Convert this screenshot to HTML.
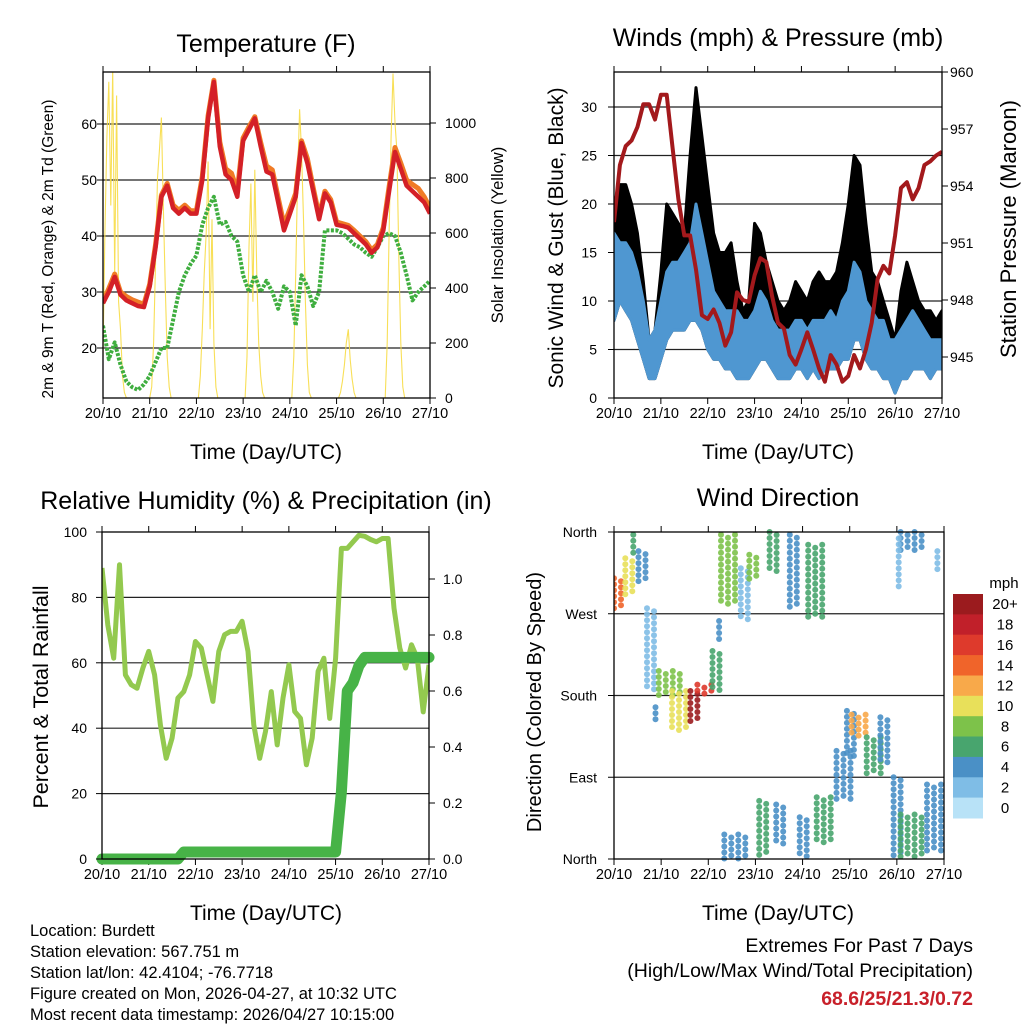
<!DOCTYPE html>
<html><head><meta charset="utf-8"><style>
html,body{margin:0;padding:0;background:#fff;}
svg{display:block;font-family:"Liberation Sans",Arial,sans-serif;}
</style></head><body>
<svg id="fig" width="1024" height="1024" viewBox="0 0 1024 1024" xmlns="http://www.w3.org/2000/svg">
<defs>
<clipPath id="c1"><rect x="103" y="72" width="327" height="326"/></clipPath>
<clipPath id="c2"><rect x="614" y="72" width="328" height="326"/></clipPath>
<clipPath id="c3"><rect x="102" y="532" width="327" height="327"/></clipPath>
<clipPath id="c4"><rect x="614" y="528" width="330" height="335"/></clipPath>
</defs>
<g id="layer"></g>
<text x="266" y="52" font-size="25" text-anchor="middle">Temperature (F)</text>
<text x="778" y="46" font-size="25" text-anchor="middle">Winds (mph) &amp; Pressure (mb)</text>
<text x="266" y="509" font-size="25" text-anchor="middle">Relative Humidity (%) &amp; Precipitation (in)</text>
<text x="778" y="506" font-size="25" text-anchor="middle">Wind Direction</text>
<text x="266" y="459" font-size="21" text-anchor="middle">Time (Day/UTC)</text>
<text x="778" y="459" font-size="21" text-anchor="middle">Time (Day/UTC)</text>
<text x="266" y="920" font-size="21" text-anchor="middle">Time (Day/UTC)</text>
<text x="778" y="920" font-size="21" text-anchor="middle">Time (Day/UTC)</text>
<text transform="translate(53,249) rotate(-90)" font-size="15.5" text-anchor="middle">2m &amp; 9m T (Red, Orange) &amp; 2m Td (Green)</text>
<text transform="translate(503,235) rotate(-90)" font-size="16.5" text-anchor="middle">Solar Insolation (Yellow)</text>
<text transform="translate(563,238) rotate(-90)" font-size="21" text-anchor="middle">Sonic Wind &amp; Gust (Blue, Black)</text>
<text transform="translate(1016,229) rotate(-90)" font-size="22" text-anchor="middle">Station Pressure (Maroon)</text>
<text transform="translate(48,697) rotate(-90)" font-size="21.5" text-anchor="middle">Percent &amp; Total Rainfall</text>
<text transform="translate(541,702) rotate(-90)" font-size="20" text-anchor="middle">Direction (Colored By Speed)</text>
<g font-size="16.5">
<text x="30" y="936">Location: Burdett</text>
<text x="30" y="957">Station elevation: 567.751 m</text>
<text x="30" y="978">Station lat/lon: 42.4104; -76.7718</text>
<text x="30" y="999">Figure created on Mon, 2026-04-27, at 10:32 UTC</text>
<text x="30" y="1020">Most recent data timestamp: 2026/04/27 10:15:00</text>
</g>
<g font-size="19.5" text-anchor="end">
<text x="973" y="952">Extremes For Past 7 Days</text>
<text x="973" y="977">(High/Low/Max Wind/Total Precipitation)</text>
<text x="973" y="1005" font-weight="bold" fill="#c8202a">68.6/25/21.3/0.72</text>
</g>
</svg>
<script>
const dayLabels=['20/10','21/10','22/10','23/10','24/10','25/10','26/10','27/10'];
const temp2m=[28,30,32.7,29.5,28.5,28,27.5,27.3, 31,38,47,49,45,44,45,44, 44,50,61,67.5,56,51,50,47, 57,59,61,56,51.5,51,46,41, 44,47,56.6,53,48,43,47.6,46, 42,41.8,41.5,40.5,39.5,38.5,37,38, 41,48,55,52,49,48,47,46, 44];
const temp9m=[28.3,30.6,33.2,30,29.2,28.6,28.2,27.8, 31.4,38.5,47.3,49.4,45.5,44.6,45.5,44.5, 44.5,50.6,61.5,67.8,56.8,52,51.2,48, 57.5,59.5,61.3,56.7,52.5,51.8,46.8,42, 44.8,47.6,57,53.8,48.6,43.6,48,46.5, 42.5,42.2,41.9,41,40,39,37.5,38.5, 41.5,48.8,55.8,53,50,49.2,48.5,47, 45];
const dewpt=[24,18,21,17,14,13,12.5,13.5, 15,17.5,20,20,25,30,33,35, 36.5,42,45,47,42,42.5,40,39, 33,30,33,30,32,30,27,31, 30,24,33,31,27.5,30,41,41, 41,40.5,39.5,38.5,38,37,36.3,38, 40,40.5,40,37,33,28.5,30,31, 32];
const solar=[150,600,950,1150,700,1200,450,1100,350,250,80,20,0,0,0,0,0,0,0,0,0,0,0,0,
0,40,200,500,800,900,1020,700,400,150,40,0,0,0,0,0,0,0,0,0,0,0,0,0,
0,0,80,250,450,600,860,250,650,200,40,0,0,0,0,0,0,0,0,0,0,0,0,0,
0,0,150,550,780,350,830,450,200,80,20,0,0,0,0,0,0,0,0,0,0,0,0,0,
0,0,150,450,800,1050,900,650,350,120,20,0,0,0,0,0,0,0,0,0,0,0,0,0,
0,0,20,60,120,200,250,140,70,20,0,0,0,0,0,0,0,0,0,0,0,0,0,0,
0,0,200,600,950,1180,1000,900,500,200,40,0,0,0,0,0,0,0,0,0,0,0,0,0,
0];
const windLo=[8,10,9,8,6,4,2,2, 4,6,7,7,7,8,8,7, 5,4,4,3,3,2,2,2, 3,4,4,3,2,2,2,3, 3,2,3,2,3,3,3,4, 4,6,6,4,3,3,2,2, 0.5,2,2,3,3,3,2,3, 3];
const windHi=[17,16,16,15,13,10,6,7, 10,13,14,14,15,16,20,17, 14,11,10,9,9,9,8,8, 9,11,10,8,7,7,7,8, 8,7,8,8,8,9,8,10, 11,14,13,10,9,8,8,6, 6,7,8,9,8,7,6,6, 6];
const gustHi=[20,22,22,20,17,12,6,7, 13,20,19,18,17,25,32,27, 22,17,15,15,16,12,9,10, 18,17,14,12,10,9,10,12, 11,10,12,13,12,12,13,16, 20,25,24,18,13,12,10,8, 6,11,14,12,10,9,9,8, 9];
const pressure=[952.1,955.1,956.1,956.4,957.1,958.3,958.3,957.5, 958.8,958.8,956,953.3,951.4,951.4,949.6,947.2, 947,947.5,946.8,945.6,946.3,948.4,948,947.9, 949.3,950.2,950,948.2,946.8,946.5,945.1,944.6, 945.4,946.3,945.4,944.4,943.7,945.1,944.6,943.7, 944,945.1,944.4,945.4,946.8,949.1,949.8,949.4, 951.4,953.9,954.2,953.3,953.9,955.1,955.3,955.6, 955.8];
const rh=[89,71.6,61.4,90,56.3,53.3,52.2,58.4, 63.5,56.3,41,30.8,37,49.2,51.2,56.3, 66.5,64.5,56.3,48.2,63.5,68.6,69.6,69.6, 72.7,63.5,41,30.8,39,51.2,34.9,49.2, 59.4,45.1,43,28.8,37,57.4,61.4,43, 61.4,95,95,97,99,98.7,97.7,97, 98,98,76.7,64.5,58.4,65.5,61.4,45, 59.4];
const precip=[0,0,0,0,0,0,0,0, 0,0,0,0,0,0,0.025,0.025, 0.025,0.025,0.025,0.025,0.025,0.025,0.025,0.025, 0.025,0.025,0.025,0.025,0.025,0.025,0.025,0.025, 0.025,0.025,0.025,0.025,0.025,0.025,0.025,0.025, 0.025,0.24,0.60,0.63,0.69,0.72,0.72,0.72, 0.72,0.72,0.72,0.72,0.72,0.72,0.72,0.72, 0.72];
const dirSegT0=[0.00,0.24,0.41,0.52,0.70,0.88,0.95,1.23,1.62,1.77,2.09,2.23,2.27,2.69,2.87,3.30,3.73,4.12,6.08,6.04,6.86,2.34,3.08,3.44,3.94,4.30,4.72,4.94,5.04,5.36,5.65,5.93,6.08,6.64];
const dirSegT1=[0.24,0.52,0.48,0.73,0.95,0.95,1.45,1.66,1.80,2.09,2.37,2.34,2.66,2.87,3.08,3.51,3.94,4.44,6.64,6.11,6.93,2.80,3.37,3.73,4.23,4.72,5.08,5.22,5.43,5.72,5.93,6.22,6.64,7.00];
const dirSegLo=[276,291,335,306,185,148,178,141,152,179,185,240,280,262,306,317,276,266,339,298,317,0,2,16,2,16,64,112,134,93,104,2,2,9];
const dirSegHi=[309,331,357,339,276,167,207,185,185,192,229,262,357,320,335,360,357,346,360,353,339,27,64,60,46,68,119,163,159,134,156,90,49,82];
const dirSegSpeed=[15,11,7,5,2,4,9,11,20,16,7,4,8,2,9,6,4,6,4,2,2,4,6,5,4,6,4,5,13,7,4,4,6,4];
const speedLabels=['0','2','4','6','8','10','12','14','16','18','20+'];
const speedColors=['#b8e2f7','#7fbde6','#4a90c6','#48a56e','#7dc24a','#e8e05a','#f8a94a','#f0642a','#de3a2c','#c1202a','#9b1b1e'];

const NS='http://www.w3.org/2000/svg';
const layer=document.getElementById('layer');
function mk(tag,attrs,parent){const e=document.createElementNS(NS,tag);for(const k in attrs)e.setAttribute(k,attrs[k]);(parent||layer).appendChild(e);return e;}
function xOf(P,t){return P.x0+t/7*(P.x1-P.x0);}
const P1={x0:103,x1:430,y0:72,y1:398}, P2={x0:614,x1:942,y0:72,y1:398}, P3={x0:102,x1:429,y0:532,y1:859}, P4={x0:614,x1:944,y0:532,y1:859};
const tempY=v=>348-(v-20)*5.6, solarY=v=>398-v*0.275;
const windY=v=>398-v*9.7, presY=v=>72+(960-v)*19;
const rhY=v=>859-v*3.27, prY=v=>859-v*280;
const dirY=d=>859-d*(327/360);

function frame(P,name){
  const g=mk('g',{});
  
  
  for(let i=0;i<=7;i++){
    const x=xOf(P,i);
    mk('line',{x1:x,y1:P.y1,x2:x,y2:P.y1+6,stroke:'#000','stroke-width':1},g);
    mk('line',{x1:x,y1:P.y0,x2:x,y2:P.y0-6,stroke:'#000','stroke-width':1},g);
    const tl=mk('text',{x:x,y:P.y1+20,'font-size':14.5,'text-anchor':'middle'},g);
    tl.textContent=dayLabels[i];
    
    
  }
  return g;
}
function leftAxis(P,vals,fy,labels,lx){
  const g=mk('g',{});
  
  
  vals.forEach((v,i)=>{const y=fy(v);
    mk('line',{x1:P.x0-6,y1:y,x2:P.x0,y2:y,stroke:'#000'},g);
    const t=mk('text',{x:lx,y:y+5,'font-size':14,'text-anchor':'end'},g);t.textContent=labels[i];
    
    
  });
}
function rightAxis(P,vals,fy,labels,lx){
  const g=mk('g',{});
  
  
  vals.forEach((v,i)=>{const y=fy(v);
    mk('line',{x1:P.x1,y1:y,x2:P.x1+6,y2:y,stroke:'#000'},g);
    const t=mk('text',{x:lx,y:y+5,'font-size':14,'text-anchor':'start'},g);t.textContent=labels[i];
    
    
  });
}
function grid(P,vals,fy){vals.forEach(v=>{const y=fy(v);mk('line',{x1:P.x0,y1:y,x2:P.x1,y2:y,stroke:'#222','stroke-width':1.2});});}
function box(P,name){const r=mk('rect',{x:P.x0,y:P.y0,width:P.x1-P.x0,height:P.y1-P.y0,fill:'none',stroke:'#000','stroke-width':1.3});}
function pts(P,arr,fy,n){return arr.map((v,i)=>xOf(P,i*7/(n-1)).toFixed(1)+','+fy(v).toFixed(1)).join(' ');}

// ---------- Panel 1 ----------
frame(P1,'temperature');
grid(P1,[20,30,40,50,60],tempY);
const g1=mk('g',{'clip-path':'url(#c1)'});
const sol=mk('polyline',{points:pts(P1,solar,solarY,solar.length),fill:'none',stroke:'#f7dc45','stroke-width':1.1,opacity:0.9},g1);


const dp=mk('polyline',{points:pts(P1,dewpt,tempY,dewpt.length),fill:'none',stroke:'#3fae3f','stroke-width':4,'stroke-dasharray':'3 1.5','stroke-linejoin':'round'},g1);


const t9=mk('polyline',{points:pts(P1,temp9m,tempY,temp9m.length),fill:'none',stroke:'#f07b26','stroke-width':5,'stroke-linejoin':'round'},g1);


const t2=mk('polyline',{points:pts(P1,temp2m,tempY,temp2m.length),fill:'none',stroke:'#d42027','stroke-width':4.5,'stroke-linejoin':'round'},g1);


leftAxis(P1,[20,30,40,50,60],tempY,['20','30','40','50','60'],97);
rightAxis(P1,[0,200,400,600,800,1000],solarY,['0','200','400','600','800','1000'],445);
box(P1,'temperature');

// ---------- Panel 2 ----------
frame(P2,'winds');
grid(P2,[5,10,15,20,25,30],windY);
const g2=mk('g',{'clip-path':'url(#c2)'});
const n2=windLo.length;
const gustTopPts=gustHi.map((v,i)=>xOf(P2,i*7/(n2-1)).toFixed(1)+','+windY(v).toFixed(1));
const windBotPts=windLo.map((v,i)=>xOf(P2,i*7/(n2-1)).toFixed(1)+','+windY(v).toFixed(1)).reverse();
const gb=mk('polygon',{points:gustTopPts.concat(windBotPts).join(' '),fill:'#000',stroke:'#000','stroke-width':3,'stroke-linejoin':'round'},g2);


const windTopPts=windHi.map((v,i)=>xOf(P2,i*7/(n2-1)).toFixed(1)+','+windY(v).toFixed(1));
const wb=mk('polygon',{points:windTopPts.concat(windBotPts).join(' '),fill:'#4f97d1',stroke:'#4f97d1','stroke-width':3,'stroke-linejoin':'round'},g2);


const pl=mk('polyline',{points:pts(P2,pressure,presY,pressure.length),fill:'none',stroke:'#a3191c','stroke-width':4,'stroke-linejoin':'round'},g2);


leftAxis(P2,[0,5,10,15,20,25,30],windY,['0','5','10','15','20','25','30'],597);
rightAxis(P2,[945,948,951,954,957,960],presY,['945','948','951','954','957','960'],950);
box(P2,'winds');

// ---------- Panel 3 ----------
frame(P3,'humidity');
grid(P3,[20,40,60,80],rhY);
const g3=mk('g',{'clip-path':'url(#c3)'});
const rl=mk('polyline',{points:pts(P3,rh,rhY,rh.length),fill:'none',stroke:'#93c94f','stroke-width':5,'stroke-linejoin':'round'},g3);


const pr=mk('polyline',{points:pts(P3,precip,prY,precip.length),fill:'none',stroke:'#47b347','stroke-width':11,'stroke-linejoin':'round','stroke-linecap':'round'});


leftAxis(P3,[0,20,40,60,80,100],rhY,['0','20','40','60','80','100'],87);
rightAxis(P3,[0,0.2,0.4,0.6,0.8,1.0],prY,['0.0','0.2','0.4','0.6','0.8','1.0'],443);
box(P3,'humidity');

// ---------- Panel 4 ----------
frame(P4,'direction');
grid(P4,[90,180,270],dirY);
const g4=mk('g',{'clip-path':'url(#c4)'});
dirSegT0.forEach((t0,i)=>{
  const xa=xOf(P4,t0), xb=xOf(P4,dirSegT1[i]);
  const ya=dirY(dirSegHi[i]), yb=dirY(dirSegLo[i]);
  const c=speedColors[Math.min(10,Math.floor(dirSegSpeed[i]/2))];
  const sg=mk('g',{},g4);
  
  
  let col=0;
  for(let x=xa;x<=xb+0.1;x+=7,col++){
    for(let y=ya+(col%2)*3;y<=yb+0.1;y+=6){
      mk('circle',{cx:x.toFixed(1),cy:y.toFixed(1),r:3,fill:c,opacity:0.9},sg);
    }
  }
});
leftAxis(P4,[0,90,180,270,360],dirY,['North','East','South','West','North'],597);
box(P4,'direction');

// colorbar
const cb=mk('g',{});


const cbTop=594, cbH=224/11;
speedColors.slice().reverse().forEach((c,i)=>{
  const r=mk('rect',{x:953,y:(cbTop+i*cbH).toFixed(1),width:30,height:(cbH+0.5).toFixed(1),fill:c},cb);
  
  
  const t=mk('text',{x:1005,y:(cbTop+i*cbH+cbH/2+5).toFixed(1),'font-size':15,'text-anchor':'middle'},cb);
  t.textContent=speedLabels[10-i];
  
  
});
const mph=mk('text',{x:1004,y:588,'font-size':15,'text-anchor':'middle'},cb);
mph.textContent='mph';


</script>
</body></html>
